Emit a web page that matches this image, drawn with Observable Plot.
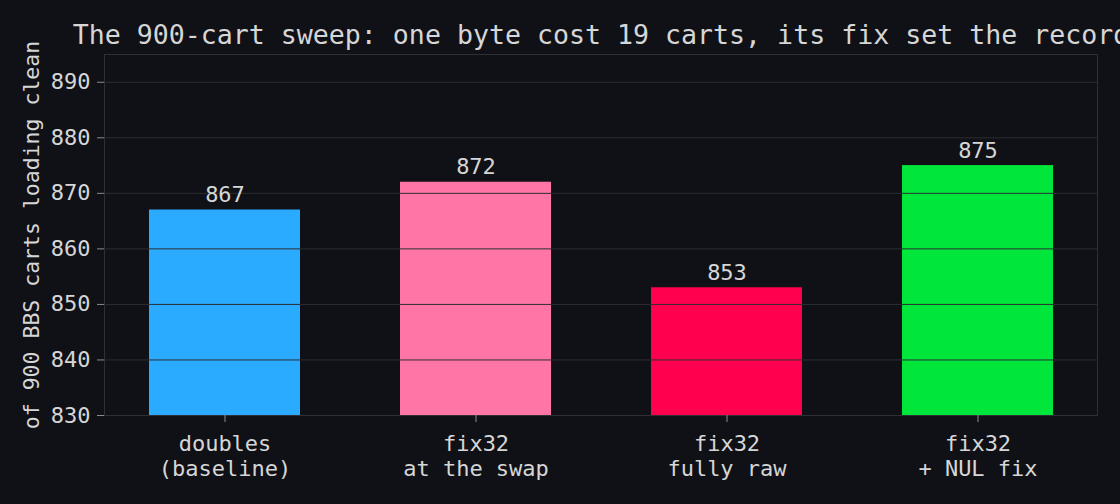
<!DOCTYPE html>
<html>
<head>
<meta charset="utf-8">
<script src="https://cdn.jsdelivr.net/npm/d3@7"></script>
<script src="https://cdn.jsdelivr.net/npm/@observablehq/plot@0.6"></script>
<style>
  html, body { margin: 0; padding: 0; background: #101116; overflow: hidden; }
  #chart svg { display: block; }
</style>
</head>
<body>
<div id="chart"></div>
<script>
const titleText = "The 900-cart sweep: one byte cost 19 carts, its fix set the record";
const yLabel = "of 900 BBS carts loading clean";
const categories = ["doubles\n(baseline)", "fix32\nat the swap", "fix32\nfully raw", "fix32\n+ NUL fix"];
const values = [867, 872, 853, 875];
const barColors = ["#2aabff", "#ff75a5", "#ff004e", "#00e63a"];
const yTicks = [830, 840, 850, 860, 870, 880, 890];
const yDomain = [830, 895];

const data = categories.map((c, i) => ({cat: c, value: values[i]}));

const chart = Plot.plot({
  width: 1120,
  height: 504,
  marginLeft: 104,
  marginRight: 23,
  marginTop: 54,
  marginBottom: 89,
  style: {
    background: "#101116",
    color: "#d6d6d6",
    fontFamily: "'DejaVu Sans Mono', monospace",
    fontSize: "22px"
  },
  x: {domain: categories, paddingInner: 0.4, paddingOuter: 0.176, label: null},
  y: {domain: yDomain, label: null},
  color: {domain: categories, range: barColors},
  marks: [
    Plot.barY(data, {x: "cat", y1: yDomain[0], y2: "value", fill: "cat"}),
    Plot.gridY(yTicks, {stroke: "#2c2d33", strokeOpacity: 1}),
    Plot.frame({stroke: "#2f3036"}),
    Plot.axisY(yTicks, {tickSize: 7, tickPadding: 7, fontSize: 22, stroke: "#8c8c90", label: null}),
    Plot.axisX({tickSize: 7, tickPadding: 10, fontSize: 22, lineHeight: 1.16, stroke: "#8c8c90", label: null}),
    Plot.text(data, {x: "cat", y: "value", text: d => String(d.value), lineAnchor: "bottom", dy: -8, fontSize: 22, fill: "#d6d6d6"}),
    Plot.text([titleText], {frameAnchor: "top", textAnchor: "middle", lineAnchor: "bottom", dy: -11, fontSize: 26.6, fill: "#d6d6d6"}),
    Plot.text([yLabel], {frameAnchor: "left", textAnchor: "middle", lineAnchor: "middle", rotate: -90, dx: -72, fontSize: 21.5, fill: "#d6d6d6"})
  ]
});
document.getElementById("chart").appendChild(chart);
</script>
</body>
</html>
